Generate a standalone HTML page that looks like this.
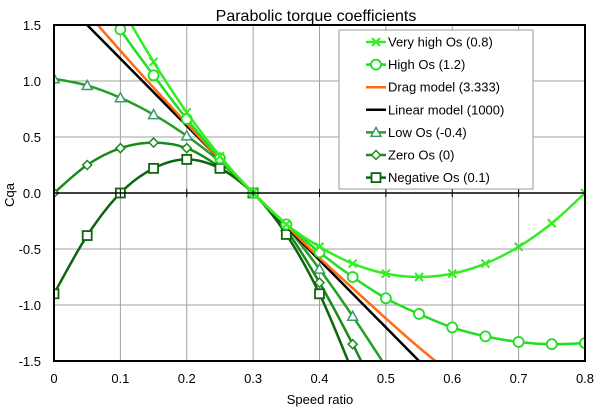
<!DOCTYPE html>
<html><head><meta charset="utf-8"><style>
html,body{margin:0;padding:0;background:#fff}
svg{display:block;font-family:"Liberation Sans",Arial,sans-serif}
</style></head><body>
<svg id="chart" width="600" height="412" viewBox="0 0 600 412">
<defs><clipPath id="pc"><rect x="54" y="25" width="531" height="336"/></clipPath></defs>
<text x="316" y="21" font-size="16" text-anchor="middle">Parabolic torque coefficients</text>
<g id="grid"></g><g id="series" clip-path="url(#pc)"></g><g id="axes"></g><g id="legend"></g>
<text x="320" y="404" font-size="13" text-anchor="middle">Speed ratio</text>
<text transform="translate(14,195) rotate(-90)" font-size="13" text-anchor="middle">Cqa</text>
</svg>
<script>
const xs = [0,0.05,0.1,0.15,0.2,0.25,0.3,0.35,0.4,0.45,0.5,0.55,0.6,0.65,0.7,0.75,0.8];
const veryHigh = [3.6,2.25,1.68,1.17,0.72,0.33,0,-0.28,-0.48,-0.63,-0.72,-0.75,-0.72,-0.63,-0.48,-0.27,0];
const high = [2.5,1.95,1.46,1.05,0.66,0.31,0,-0.28,-0.53,-0.75,-0.94,-1.08,-1.2,-1.28,-1.33,-1.35,-1.34];
const drag = [1.96,1.61,1.27,0.94,0.62,0.30,0,-0.29,-0.58,-0.85,-1.12,-1.38,-1.62];
const linearX = [0,0.6];
const linear = [1.8,-1.8];
const lowOs = [1.02,0.96,0.85,0.70,0.51,0.28,0,-0.30,-0.68,-1.1,-1.55];
const zeroOs = [0,0.25,0.40,0.45,0.40,0.23,0,-0.33,-0.80,-1.35,-1.95];
const negOs = [-0.9,-0.38,0,0.22,0.30,0.22,0,-0.37,-0.9,-1.6];
const xTicks = [0,0.1,0.2,0.3,0.4,0.5,0.6,0.7,0.8];
const yTicks = [1.5,1.0,0.5,0.0,-0.5,-1.0,-1.5];
const legendLabels = ["Very high Os (0.8)","High Os (1.2)","Drag model (3.333)","Linear model (1000)","Low Os (-0.4)","Zero Os (0)","Negative Os (0.1)"];

const NS="http://www.w3.org/2000/svg";
const X=v=>54+v/0.8*531, Y=v=>193-v/0.5*56;
function mk(tag,attrs,parent){const e=document.createElementNS(NS,tag);for(const k in attrs)e.setAttribute(k,attrs[k]);parent.appendChild(e);return e;}
const grid=document.getElementById('grid'),axes=document.getElementById('axes'),ser=document.getElementById('series'),leg=document.getElementById('legend');
xTicks.forEach(t=>{const l=mk('line',{x1:X(t),x2:X(t),y1:25,y2:361,stroke:'#a0a0a0','stroke-width':1},grid);

const tx=mk('text',{x:X(t),y:383,'font-size':13,'text-anchor':'middle'},axes);tx.textContent=t===0?'0':t.toFixed(1);

const tk=mk('line',{x1:X(t),x2:X(t),y1:189,y2:197,stroke:'#000','stroke-width':1},axes);
});
yTicks.forEach(t=>{const l=mk('line',{x1:54,x2:585,y1:Y(t),y2:Y(t),stroke:'#a0a0a0','stroke-width':1},grid);

const tx=mk('text',{x:41,y:Y(t)+5,'font-size':13,'text-anchor':'end'},axes);tx.textContent=t.toFixed(1);
});
const z=mk('line',{x1:54,x2:585,y1:Y(0),y2:Y(0),stroke:'#000','stroke-width':1.5},axes);

const fr=mk('rect',{x:54,y:25,width:531,height:336,fill:'none',stroke:'#000','stroke-width':2},axes);


function smooth(pts){let d=`M${pts[0][0]},${pts[0][1]}`;for(let i=0;i<pts.length-1;i++){const p0=pts[i-1]||pts[i],p1=pts[i],p2=pts[i+1],p3=pts[i+2]||p2;
d+=` C${p1[0]+(p2[0]-p0[0])/6},${p1[1]+(p2[1]-p0[1])/6} ${p2[0]-(p3[0]-p1[0])/6},${p2[1]-(p3[1]-p1[1])/6} ${p2[0]},${p2[1]}`;}return d;}
function marker(type,cx,cy,color,g){let e;
if(type==='x'){e=mk('path',{d:`M${cx-4},${cy-4}L${cx+4},${cy+4}M${cx-4},${cy+4}L${cx+4},${cy-4}`,stroke:color,'stroke-width':2,fill:'none'},g);}
else if(type==='o'){e=mk('circle',{cx,cy,r:5,fill:'#fff',stroke:color,'stroke-width':1.8},g);}
else if(type==='t'){e=mk('path',{d:`M${cx},${cy-5}L${cx+5},${cy+4}L${cx-5},${cy+4}Z`,fill:'#fff',stroke:color,'stroke-width':1.5},g);}
else if(type==='d'){e=mk('path',{d:`M${cx},${cy-4.5}L${cx+4.5},${cy}L${cx},${cy+4.5}L${cx-4.5},${cy}Z`,fill:'#fff',stroke:color,'stroke-width':1.5},g);}
else if(type==='s'){e=mk('rect',{x:cx-4.5,y:cy-4.5,width:9,height:9,fill:'#fff',stroke:color,'stroke-width':1.8},g);}
return e;}
const defs=[
 {xv:xs,yv:veryHigh,c:'#33ee22',m:'x',mc:'#33ee22',n:'very-high-os'},
 {xv:xs,yv:high,c:'#22dd22',m:'o',mc:'#22dd22',n:'high-os'},
 {xv:xs,yv:drag,c:'#ff6a13',m:null,n:'drag-model'},
 {xv:linearX,yv:linear,c:'#000',m:null,n:'linear-model'},
 {xv:xs,yv:lowOs,c:'#22a022',m:'t',mc:'#3a9a70',n:'low-os'},
 {xv:xs,yv:zeroOs,c:'#1a8a1a',m:'d',mc:'#1a8a1a',n:'zero-os'},
 {xv:xs,yv:negOs,c:'#0e650e',m:'s',mc:'#0e650e',n:'negative-os'}];
const order=[4,5,6,3,2,1,0];
order.forEach(i=>{const s=defs[i];const g=mk('g',{},ser);
const pts=s.yv.map((v,j)=>[X(s.xv[j]),Y(v)]);
const p=mk('path',{d:smooth(pts),fill:'none',stroke:s.c,'stroke-width':2.5},g);
if(s.m)s.yv.forEach((v,j)=>{if(v<=1.55&&v>=-1.55){const e=marker(s.m,X(s.xv[j]),Y(v),s.mc,g);}});});
const lb=mk('rect',{x:339,y:30,width:194,height:159,fill:'#fff',stroke:'#999','stroke-width':1},leg);

legendLabels.forEach((lab,i)=>{const s=defs[i];const y=42+i*22.6;const g=mk('g',{},leg);

mk('line',{x1:366,x2:386,y1:y,y2:y,stroke:s.c,'stroke-width':2.5},g);
if(s.m)marker(s.m,376,y,s.mc,g);
const t=mk('text',{x:388,y:y+4.5,'font-size':13},g);t.textContent=lab;});
</script>
</body></html>
